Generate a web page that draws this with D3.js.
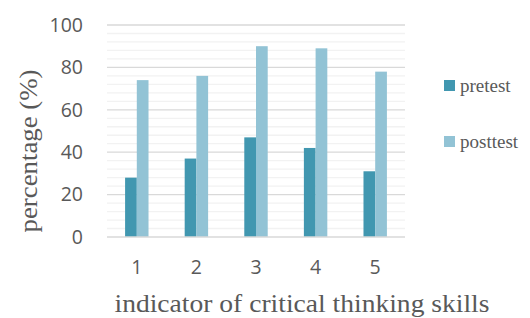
<!DOCTYPE html>
<html>
<head>
<meta charset="utf-8">
<script src="https://cdn.jsdelivr.net/npm/d3@7"></script>
<style>
  body { margin: 0; background: #fff; }
  svg text { fill: #595959; }
  .serif { font-family: 'Liberation Serif', serif; }
  .sans { font-family: 'Open Sans', sans-serif; }
</style>
</head>
<body>
<div id="chart"></div>
<script>
// data
const categories = ["1", "2", "3", "4", "5"];
const seriesNames = ["pretest", "posttest"];
const pretest = [28, 37, 47, 42, 31];
const posttest = [74, 76, 90, 89, 78];
const yTicks = [0, 20, 40, 60, 80, 100];

const colors = { pretest: "#4197b0", posttest: "#92c3d5" };

const width = 530, height = 318;
const margin = { top: 25, right: 125, bottom: 81, left: 107 };
const innerW = 405 - margin.left;
const innerH = 237 - margin.top;

const svg = d3.select("#chart").append("svg")
  .attr("width", width)
  .attr("height", height);

const chart = svg.append("g")
  .attr("transform", `translate(${margin.left}, ${margin.top})`);

const x0 = d3.scaleBand().domain(categories).range([0, innerW])
  .paddingInner(0.607).paddingOuter(0.3035);
const x1 = d3.scaleBand().domain(seriesNames).range([0, x0.bandwidth()]);
const y = d3.scaleLinear().domain([0, 100]).range([innerH, 0]);

// minor gridlines every 4
chart.append("g")
  .selectAll("line")
  .data(d3.range(4, 100, 4).filter(v => v % 20 !== 0))
  .enter().append("line")
  .attr("x1", 0).attr("x2", innerW)
  .attr("y1", d => y(d)).attr("y2", d => y(d))
  .attr("stroke", "#f2f2f2")
  .attr("stroke-width", 1.3);

// major gridlines
chart.append("g")
  .selectAll("line")
  .data(yTicks.filter(v => v > 0))
  .enter().append("line")
  .attr("x1", 0).attr("x2", innerW)
  .attr("y1", d => y(d)).attr("y2", d => y(d))
  .attr("stroke", "#d9d9d9")
  .attr("stroke-width", 1.3);

// bars
const rows = categories.map((c, i) => ({ cat: c, pretest: pretest[i], posttest: posttest[i] }));
const groups = chart.selectAll(".grp")
  .data(rows)
  .enter().append("g")
  .attr("class", "grp")
  .attr("transform", d => `translate(${x0(d.cat)}, 0)`);

groups.selectAll("rect")
  .data(d => seriesNames.map(k => ({ key: k, value: d[k] })))
  .enter().append("rect")
  .attr("x", d => x1(d.key))
  .attr("y", d => y(d.value))
  .attr("width", x1.bandwidth())
  .attr("height", d => innerH - y(d.value))
  .attr("fill", d => colors[d.key]);

// x axis line
chart.append("line")
  .attr("x1", 0).attr("x2", innerW)
  .attr("y1", innerH).attr("y2", innerH)
  .attr("stroke", "#d9d9d9")
  .attr("stroke-width", 1.5);

// y axis labels
const yAxis = chart.append("g")
  .call(d3.axisLeft(y).tickValues(yTicks).tickSize(0).tickPadding(24));
yAxis.select(".domain").remove();
yAxis.attr("font-family", null).attr("font-size", null);
yAxis.selectAll("text")
  .attr("class", "sans")
  .attr("fill", "#595959")
  .style("font-size", "19.5px");

// x axis labels
const xAxis = chart.append("g")
  .attr("transform", `translate(0, ${innerH})`)
  .call(d3.axisBottom(x0).tickSize(0).tickPadding(23));
xAxis.select(".domain").remove();
xAxis.attr("font-family", null).attr("font-size", null);
xAxis.selectAll("text")
  .attr("class", "sans")
  .attr("fill", "#595959")
  .style("font-size", "19.5px");

// axis titles
svg.append("text")
  .attr("class", "serif")
  .attr("x", 302).attr("y", 312)
  .attr("text-anchor", "middle")
  .attr("textLength", 375)
  .attr("lengthAdjust", "spacingAndGlyphs")
  .style("font-size", "26px")
  .text("indicator of critical thinking skills");

svg.append("text")
  .attr("class", "serif")
  .attr("transform", "translate(37, 151) rotate(-90)")
  .attr("text-anchor", "middle")
  .attr("textLength", 163)
  .attr("lengthAdjust", "spacingAndGlyphs")
  .style("font-size", "26px")
  .text("percentage (%)");

// legend
const legend = svg.selectAll(".legend")
  .data(seriesNames)
  .enter().append("g")
  .attr("class", "legend")
  .attr("transform", (d, i) => `translate(444, ${80 + i * 56})`);

legend.append("rect")
  .attr("width", 11).attr("height", 11)
  .attr("fill", d => colors[d]);

legend.append("text")
  .attr("class", "serif")
  .attr("x", 16).attr("y", 12)
  .style("font-size", "19px")
  .text(d => d);
</script>
</body>
</html>
